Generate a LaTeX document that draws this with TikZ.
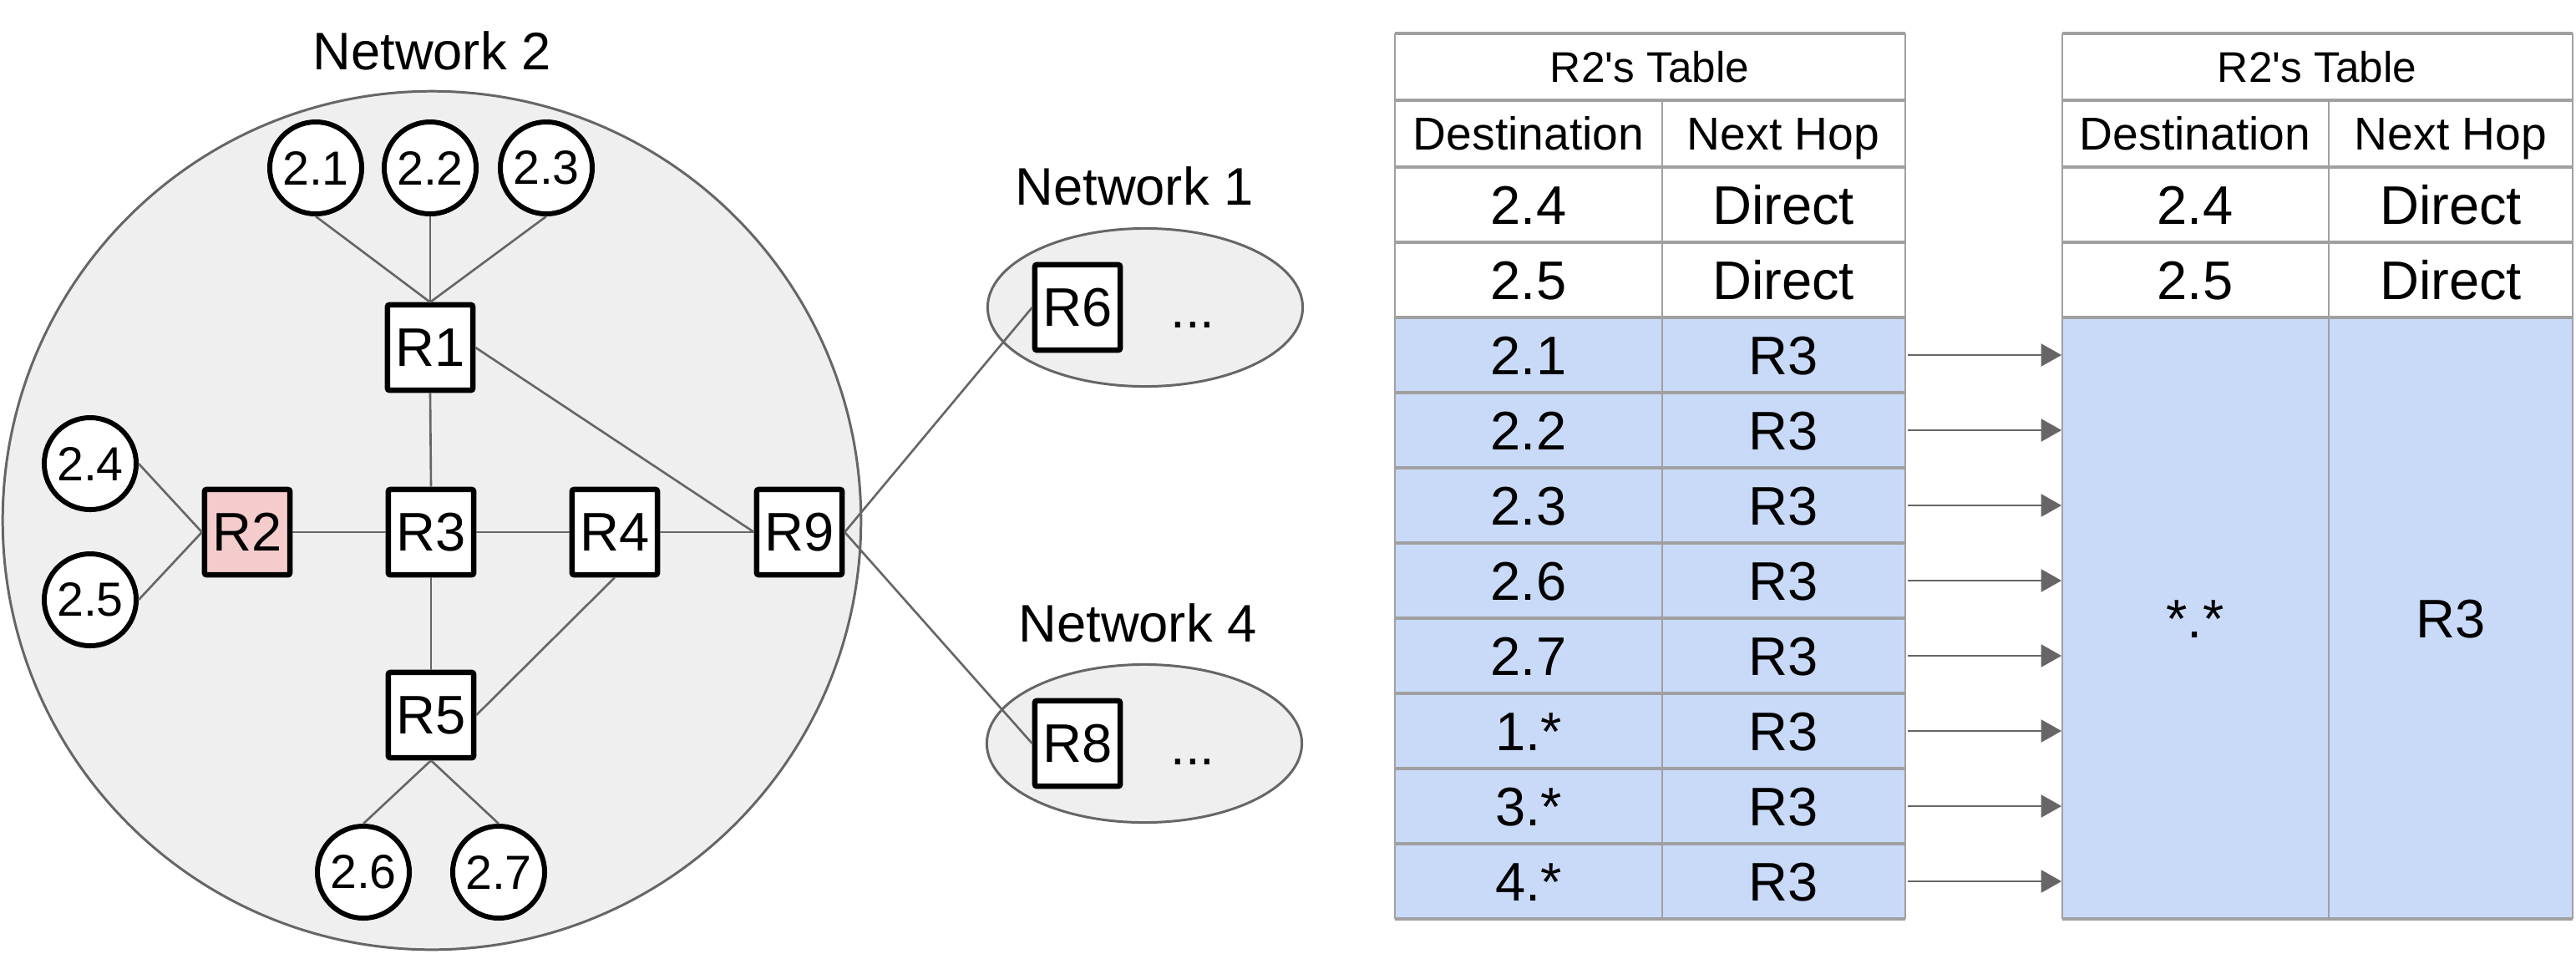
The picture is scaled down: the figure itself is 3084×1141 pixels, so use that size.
\documentclass[tikz,border=0pt]{standalone}
\usepackage{fontspec}
\setmainfont{Liberation Sans}[Ligatures=TeXOff]
\usetikzlibrary{arrows.meta,shapes.geometric}
\definecolor{netfill}{HTML}{EFEFEF}
\definecolor{linkgray}{HTML}{666666}
\definecolor{rpink}{HTML}{F4CCCC}
\definecolor{rowblue}{HTML}{C9DAF8}
\definecolor{tgray}{HTML}{A0A0A0}
\begin{document}
\begin{tikzpicture}[x=0.01cm,y=-0.01cm,
  net/.style={draw=linkgray,fill=netfill,line width=0.85pt,inner sep=0pt},
  rtr/.style={draw=black,fill=white,line width=1.85pt,minimum size=1.02cm,inner sep=0pt,rounded corners=0.6pt,
    font={\fontsize{18.5pt}{20pt}\selectfont}},
  host/.style={circle,draw=black,fill=white,line width=1.7pt,minimum size=1.1cm,inner sep=0pt,
    font={\fontsize{16.3pt}{17pt}\selectfont}},
  link/.style={draw=linkgray,line width=0.75pt},
  lbl/.style={inner sep=0pt,anchor=base,font={\fontsize{18pt}{20pt}\selectfont}},
  ttl/.style={inner sep=0pt,text height=10.4pt,text depth=0pt,font={\fontsize{14.6pt}{16pt}\selectfont}},
  hdr/.style={inner sep=0pt,text height=11.2pt,text depth=0pt,font={\fontsize{15.7pt}{17pt}\selectfont}},
  cell/.style={inner sep=0pt,text height=13.2pt,text depth=0pt,font={\fontsize{18.5pt}{20pt}\selectfont}},
  hline/.style={draw=tgray,line width=0.95pt},
  vline/.style={draw=tgray,line width=0.75pt},
  arr/.style={draw=linkgray,line width=0.75pt,-{Triangle[length=7pt,width=7.7pt]}}
]
\useasboundingbox (0,0) rectangle (3084,1141);

% ---------------- networks ----------------
\node[net,circle,minimum size=10.27cm] (net2) at (517,623) {};
\node[net,ellipse,minimum width=3.77cm,minimum height=1.89cm] (net1) at (1371,368) {};
\node[net,ellipse,minimum width=3.77cm,minimum height=1.89cm] (net4) at (1370,890) {};

\node[lbl] (lab2) at (517,83) {Network 2};
\node[lbl] (lab1) at (1358,245) {Network 1};
\node[lbl] (lab4) at (1362,768) {Network 4};

% hosts
\node[host] (h21) at (378,201) {2.1};
\node[host] (h22) at (515,201) {2.2};
\node[host] (h23) at (654,201) {2.3};
\node[host] (h24) at (108,555) {2.4};
\node[host] (h25) at (108,718) {2.5};
\node[host] (h26) at (435,1044) {2.6};
\node[host] (h27) at (597,1044) {2.7};

% routers
\node[rtr] (R1) at (515,416) {R1};
\node[rtr,fill=rpink] (R2) at (296,637) {R2};
\node[rtr] (R3) at (516,637) {R3};
\node[rtr] (R4) at (736,637) {R4};
\node[rtr] (R9) at (957,637) {R9};
\node[rtr] (R5) at (516,856) {R5};
\node[rtr] (R6) at (1290,368) {R6};
\node[rtr] (R8) at (1290,890) {R8};

\node[lbl] (dots1) at (1428,392) {...};
\node[lbl] (dots4) at (1428,915) {...};

% links
\draw[link] (h21.south) -- (R1.north);
\draw[link] (h22.south) -- (R1.north);
\draw[link] (h23.south) -- (R1.north);
\draw[link] (R1.south) -- (R3.north);
\draw[link] (R1.east) -- (R9.west);
\draw[link] (h24.east) -- (R2.west);
\draw[link] (h25.east) -- (R2.west);
\draw[link] (R2.east) -- (R3.west);
\draw[link] (R3.east) -- (R4.west);
\draw[link] (R4.east) -- (R9.west);
\draw[link] (R3.south) -- (R5.north);
\draw[link] (R4.south) -- (R5.east);
\draw[link] (R5.south) -- (h26.north);
\draw[link] (R5.south) -- (h27.north);
\draw[link] (R9.east) -- (R6.west);
\draw[link] (R9.east) -- (R8.west);

% ---------------- table 1 ----------------
\fill[rowblue] (1670,380) rectangle (2281,1100);
\foreach \yy in {40,120,200,290,380,470,560,650,740,830,920,1010,1100}
  \draw[hline] (1670,\yy) -- (2281,\yy);
\draw[vline] (1670,40) -- (1670,1100);
\draw[vline] (2281,40) -- (2281,1100);
\draw[vline] (1990,120) -- (1990,1100);

\node[ttl] (t1title) at (1975,80) {R2's Table};
\node[hdr] (t1dest) at (1830,160) {Destination};
\node[hdr] (t1hop) at (2135,160) {Next Hop};
\foreach \dd/\nn [count=\i] in {2.4/Direct,2.5/Direct,2.1/R3,2.2/R3,2.3/R3,2.6/R3,2.7/R3,1.*/R3,3.*/R3,4.*/R3}{
  \node[cell] (d\i) at (1830,{155+90*\i}) {\dd};
  \node[cell] (n\i) at (2135,{155+90*\i}) {\nn};
}

% ---------------- table 2 ----------------
\node[fill=rowblue,inner sep=0pt,minimum width=6.11cm,minimum height=7.2cm] (blk) at (2774.5,740) {};
\foreach \yy in {40,120,200,290,380,1100}
  \draw[hline] (2469,\yy) -- (3080,\yy);
\draw[vline] (2469,40) -- (2469,1100);
\draw[vline] (3080,40) -- (3080,1100);
\draw[vline] (2788,120) -- (2788,1100);

\node[ttl] (t2title) at (2774,80) {R2's Table};
\node[hdr] (t2dest) at (2628,160) {Destination};
\node[hdr] (t2hop) at (2934,160) {Next Hop};
\node[cell] (e1) at (2628,245) {2.4};
\node[cell] (m1) at (2934,245) {Direct};
\node[cell] (e2) at (2628,335) {2.5};
\node[cell] (m2) at (2934,335) {Direct};
\node[cell] (estar) at (2628,740) {*.*};
\node[cell] (mstar) at (2934,740) {R3};

% arrows
\foreach \i in {3,...,10}{
  \coordinate (s\i) at (2284,{155+90*\i});
  \draw[arr] (s\i) -- (blk.west |- s\i);
}
\end{tikzpicture}
\end{document}
